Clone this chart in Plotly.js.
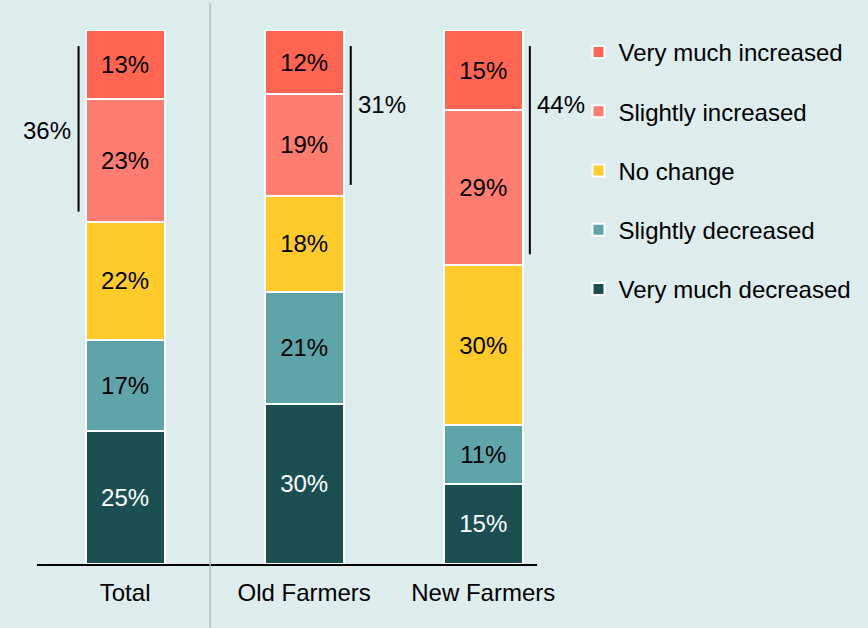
<!DOCTYPE html>
<html>
<head>
<meta charset="utf-8">
<script src="https://cdn.plot.ly/plotly-3.0.1.min.js"></script>
<style>html,body{margin:0;padding:0;background:#ddeced;}</style>
</head>
<body>
<div id="chart" style="width:868px;height:628px;"></div>
<script>
const categories = ["Total", "Old Farmers", "New Farmers"];
const seriesNames = ["Very much decreased", "Slightly decreased", "No change", "Slightly increased", "Very much increased"];
const veryMuchDecreased = [25, 30, 15];
const slightlyDecreased = [17, 21, 11];
const noChange = [22, 18, 30];
const slightlyIncreased = [23, 19, 29];
const veryMuchIncreased = [13, 12, 15];
const increasedTotals = [36, 31, 44];
const increasedLabels = ["36%", "31%", "44%"];

const seriesValues = [veryMuchDecreased, slightlyDecreased, noChange, slightlyIncreased, veryMuchIncreased];
const colors = ["#1b4f52", "#5fa4a8", "#ffcb2b", "#ff7d70", "#ff6550"];
const textColors = ["#ffffff", "#000000", "#000000", "#000000", "#000000"];
const FONT = "Liberation Sans, Arial, sans-serif";
const FS = 24;

const traces = seriesValues.map((vals, i) => ({
  type: "bar",
  name: seriesNames[i],
  x: categories,
  y: vals,
  text: vals.map(v => v + "%"),
  textposition: "inside",
  insidetextanchor: "middle",
  textfont: {color: textColors[i], size: FS, family: FONT},
  marker: {color: colors[i], line: {color: "#ffffff", width: 2}},
  legendgroup: "g" + i,
  legendrank: 1000 - i,
  hoverinfo: "none"
}));

const shapes = [{
  type: "line", xref: "x", yref: "paper",
  x0: 0.475, x1: 0.475, y0: -0.125, y1: 1.05,
  line: {color: "#b3bcbc", width: 1.5}
}];
const annotations = [];
const side = [-1, 1, 1];
increasedTotals.forEach((t, i) => {
  const bx = i + side[i] * 0.26;
  shapes.push({
    type: "line", xref: "x", yref: "y",
    x0: bx, x1: bx, y0: 100 - t + 2, y1: 97,
    line: {color: "#000000", width: 2}
  });
  annotations.push({
    xref: "x", yref: "y",
    x: i + side[i] * 0.29,
    y: i === 0 ? (100 - t + 2 + 97) / 2 - 0.3 : 86,
    text: increasedLabels[i],
    showarrow: false,
    xanchor: side[i] < 0 ? "right" : "left",
    yanchor: "middle",
    font: {size: FS, color: "#000000", family: FONT}
  });
});

const layout = {
  width: 868, height: 628,
  paper_bgcolor: "#ddeced",
  plot_bgcolor: "#ddeced",
  margin: {l: 37, r: 331, t: 30, b: 64, autoexpand: false},
  barmode: "stack",
  bargap: 0.56,
  font: {family: FONT, size: FS, color: "#000000"},
  showlegend: true,
  legend: {
    x: 1.083, y: 1.0, xanchor: "left", yanchor: "top",
    traceorder: "grouped",
    tracegroupgap: 25,
    font: {size: FS, family: FONT, color: "#000000"},
    bgcolor: "rgba(0,0,0,0)",
    itemwidth: 30
  },
  xaxis: {
    type: "category",
    range: [-0.492, 2.3],
    showline: true, linecolor: "#000000", linewidth: 2,
    showgrid: false, zeroline: false, ticks: "",
    tickfont: {size: FS, family: FONT, color: "#000000"},
    ticklabelstandoff: 6,
    automargin: false
  },
  yaxis: {
    range: [0, 100],
    visible: false, showgrid: false, zeroline: false
  },
  shapes: shapes,
  annotations: annotations
};

Plotly.newPlot("chart", traces, layout, {displayModeBar: false, staticPlot: true});
</script>
</body>
</html>
